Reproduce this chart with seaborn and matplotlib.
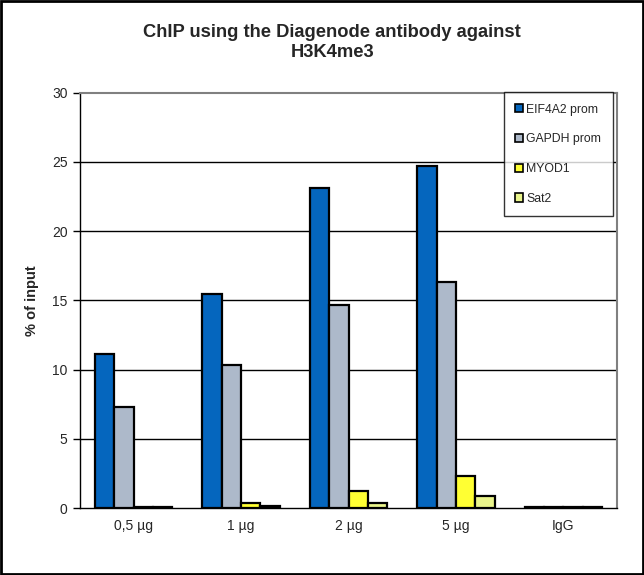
import matplotlib
matplotlib.use("Agg")
import matplotlib.pyplot as plt
import seaborn as sns
import pandas as pd
from matplotlib.patches import Rectangle

categories = ["0,5 µg", "1 µg", "2 µg", "5 µg", "IgG"]
series = ["EIF4A2 prom", "GAPDH prom", "MYOD1", "Sat2"]
eif4a2 = [11.1, 15.45, 23.1, 24.7, 0.05]
gapdh = [7.3, 10.35, 14.67, 16.3, 0.05]
myod1 = [0.05, 0.36, 1.2, 2.3, 0.05]
sat2 = [0.05, 0.15, 0.36, 0.85, 0.05]
colors = ["#0566BE", "#ADB9CA", "#FFFF33", "#EAF58C"]

rows = []
for s, vals in zip(series, [eif4a2, gapdh, myod1, sat2]):
    for c, v in zip(categories, vals):
        rows.append({"group": c, "series": s, "value": v})
df = pd.DataFrame(rows)

sns.set_style("white")
plt.rcParams["font.family"] = ["Liberation Sans", "DejaVu Sans"]

fig = plt.figure(figsize=(6.44, 5.75), dpi=100)
ax = fig.add_axes([80/644, 1-508/575, 537/644, (508-92.7)/575])

sns.barplot(data=df, x="group", y="value", hue="series", order=categories,
            hue_order=series, palette=colors, edgecolor="black", linewidth=1.6,
            width=0.72, ax=ax, legend=True, saturation=1)

ax.set_ylim(0, 30)
ax.set_xlim(-0.5, 4.5)
ax.set_yticks([0, 5, 10, 15, 20, 25, 30])
ax.set_xlabel("")
ax.set_ylabel("% of input", fontsize=10.5, fontweight="bold", labelpad=9)
for y in [5, 10, 15, 20, 25]:
    ax.axhline(y, color="black", lw=1.0, zorder=0)

ax.set_xticks([0, 1, 2, 3, 4])
ax.set_xticklabels(categories)
ax.tick_params(axis="x", length=0, labelsize=10, pad=8)
ax.set_xticks([0.5, 1.5, 2.5, 3.5], minor=True)
ax.tick_params(axis="x", which="minor", length=5, width=1, color="black", direction="out")
ax.tick_params(axis="y", length=5, width=1, color="black", direction="out", labelsize=10, pad=4, left=True)

for side in ["left", "bottom"]:
    ax.spines[side].set_color("black")
    ax.spines[side].set_linewidth(1.0)
for side in ["top", "right"]:
    ax.spines[side].set_color("#808080")
    ax.spines[side].set_linewidth(1.5)

handles, labels = ax.get_legend_handles_labels()
ax.legend_.remove()
leg = fig.legend(handles, labels, loc="upper right",
                 bbox_to_anchor=(613/644, 1-92/575), bbox_transform=fig.transFigure,
                 frameon=True, fancybox=False, fontsize=8.8, handlelength=0.65,
                 handleheight=0.65, handletextpad=0.25, labelspacing=1.45,
                 borderpad=0.95, borderaxespad=0)
leg.get_frame().set_edgecolor("black")
leg.get_frame().set_linewidth(1.0)
for h in leg.legend_handles:
    h.set_edgecolor("black")
    h.set_linewidth(1.2)

fig.text(0.516, 1-42.5/575, "ChIP using the Diagenode antibody against\nH3K4me3",
         ha="center", va="center", fontsize=13.2, fontweight="bold", linespacing=1.3)

fig.patches.append(Rectangle((0.002, 0.002), 0.996, 0.996, transform=fig.transFigure,
                             fill=False, edgecolor="black", linewidth=2))

fig.savefig("out.png", dpi=100)
